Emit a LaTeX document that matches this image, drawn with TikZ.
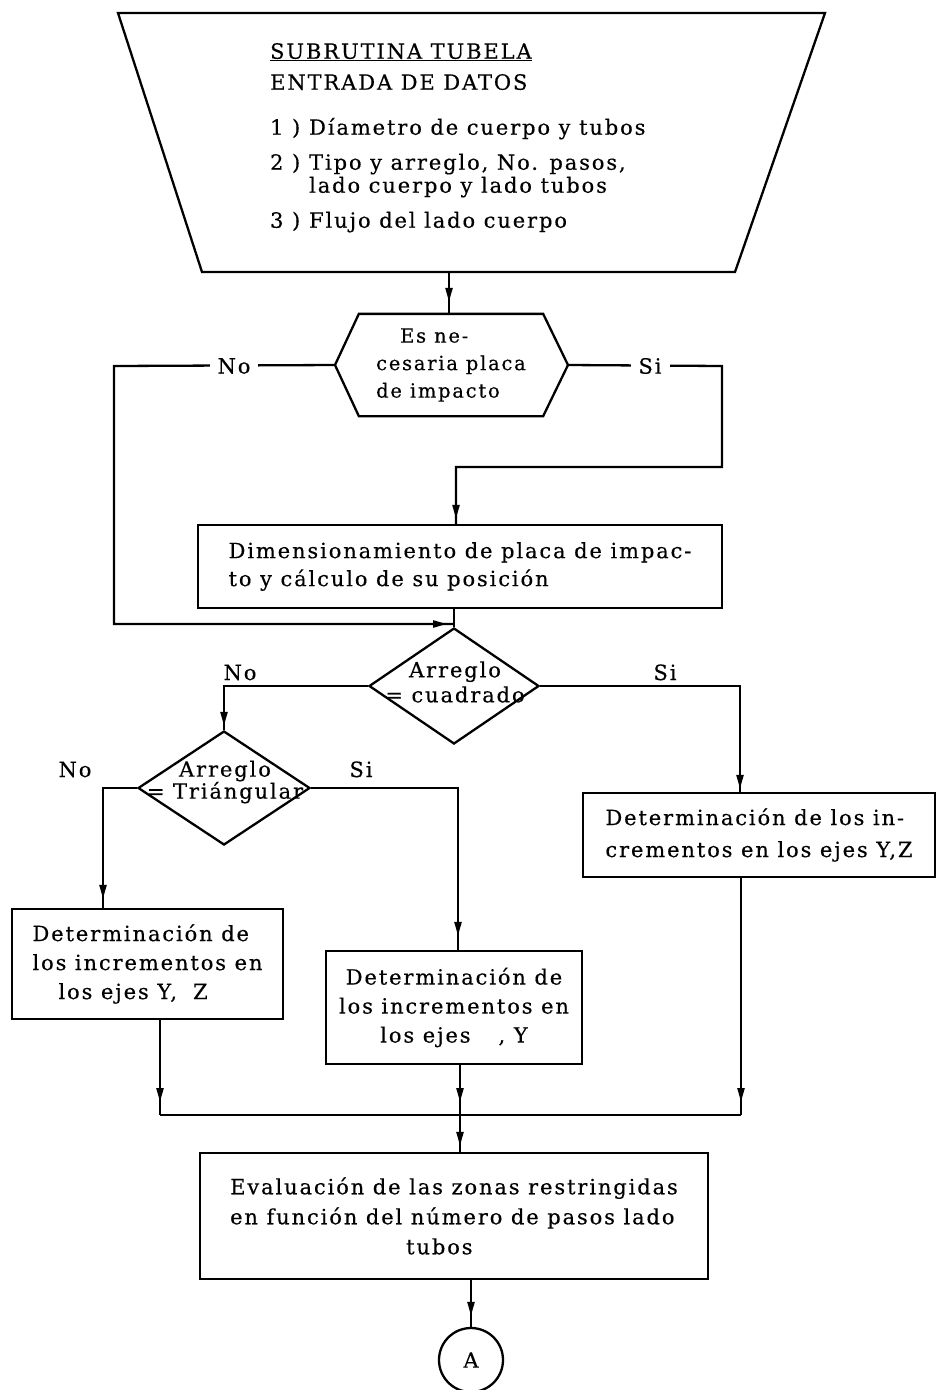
\documentclass[tikz,border=0pt]{standalone}
\usepackage{fontspec}
\setmainfont{DejaVu Serif}[LetterSpace=9, FakeBold=0.4]
\usetikzlibrary{shapes.geometric,arrows.meta,decorations.markings}

\begin{document}
\begin{tikzpicture}[x=1pt,y=-1pt,
  line width=2.3pt,
  bodytext/.style={font=\fontsize{21}{#1}\selectfont},
  procbox/.style={draw, rectangle, line width=2.3pt, inner sep=0pt},
  decision/.style={draw, diamond, line width=2.3pt, inner sep=0pt},
  branchlabel/.style={font=\fontsize{21}{24}\selectfont, inner sep=0pt},
  gaplabel/.style={font=\fontsize{21}{24}\selectfont, fill=white, inner xsep=8pt, inner ysep=3pt},
  tipat/.style={postaction={decorate},
    decoration={markings, mark=at position -#1 with {\arrow{Triangle[length=14pt,width=7pt]}}}},
]
\useasboundingbox (0,0) rectangle (937,1390);

% ---- input block (trapezium) ----
\coordinate (trapTL) at (118,13);
\coordinate (trapTR) at (825,13);
\coordinate (trapBR) at (735,272);
\coordinate (trapBL) at (202,272);
\coordinate (trapout) at (449,272);
\draw (trapTL) -- (trapTR) -- (trapBR) -- (trapBL) -- cycle;
\node[bodytext=23, align=left, anchor=north west, inner sep=0pt] (entrada) at (269,42)
  {\underline{SUBRUTINA TUBELA}\\[8pt]
   ENTRADA DE DATOS\\[22pt]
   \makebox[39pt][l]{1 )}Díametro de cuerpo y tubos\\[12pt]
   \makebox[39pt][l]{2 )}Tipo y arreglo, No. pasos,\\
   \hspace*{39pt}lado cuerpo y lado tubos\\[12pt]
   \makebox[39pt][l]{3 )}Flujo del lado cuerpo};

% ---- decision: impact plate (hexagon) ----
\node[font=\fontsize{19.5}{27.5}\selectfont, align=left, inner sep=0pt,
      minimum width=182pt, minimum height=100pt] (hex) at (451,365)
  {\hspace*{24pt}Es ne-\\cesaria placa\\de impacto};
\coordinate (hexW) at ([xshift=-116pt]hex.center);
\coordinate (hexE) at ([xshift=117pt]hex.center);
\draw (hex.north west) -- (hex.north east) -- (hexE) -- (hex.south east)
      -- (hex.south west) -- (hexW) -- cycle;

% ---- process boxes ----
\node[procbox, bodytext=28, align=left, minimum width=524pt, minimum height=83pt]
  (dim) at (460,566.5)
  {Dimensionamiento de placa de impac-\\to y cálculo de su posición};

\node[decision, minimum width=170pt, minimum height=116pt] (cuad) at (454,686) {};
\node[bodytext=25, align=center, inner sep=0pt] (cuadtxt) at (455,682)
  {Arreglo\\= cuadrado};

\node[decision, minimum width=172pt, minimum height=114pt] (tri) at (224,788) {};
\node[bodytext=22, align=center, inner sep=0pt] (tritxt) at (225,782)
  {Arreglo\\= Triángular};

\node[procbox, bodytext=32, align=left, minimum width=352pt, minimum height=84pt]
  (incsq) at (759,835)
  {Determinación de los in-\\crementos en los ejes Y,Z};

\node[procbox, bodytext=29, align=left, minimum width=271pt, minimum height=110pt]
  (inctri) at (147.5,964)
  {Determinación de\\los incrementos en\\\hspace*{26pt}los ejes Y,\hspace{16pt}Z};

\node[procbox, bodytext=29, align=center, minimum width=256pt, minimum height=113pt]
  (incoth) at (454,1007.5)
  {Determinación de\\los incrementos en\\los ejes\hspace{28pt}, Y};

\node[procbox, bodytext=30, align=left, minimum width=508pt, minimum height=126pt]
  (evalz) at (454,1216)
  {Evaluación de las zonas restringidas\\en función del número de pasos lado\\\hspace*{176pt}tubos};

\node[draw, circle, line width=2.3pt, minimum size=64pt, inner sep=0pt,
      font=\fontsize{21}{24}\selectfont] (conA) at (471,1360) {A};

% ---- connector anchor points ----
\coordinate (dimin)  at ([xshift=-4pt]dim.north);
\coordinate (dimout) at ([xshift=-6pt]dim.south);
\coordinate (sqin)   at ([xshift=-19pt]incsq.north);
\coordinate (sqout)  at ([xshift=-18pt]incsq.south);
\coordinate (triin)  at ([xshift=-44.5pt]inctri.north);
\coordinate (triout) at ([xshift=12.5pt]inctri.south);
\coordinate (othin)  at ([xshift=4pt]incoth.north);
\coordinate (othout) at ([xshift=6pt]incoth.south);
\coordinate (merge)  at (460,1115);
\coordinate (nobend) at (114,366);
\coordinate (sibend) at (722,366);
\coordinate (sistep) at (722,467);

% ---- connectors ----
\draw[tipat=12pt] (trapout) -- (trapout |- hex.north);

\draw[tipat=7pt] (hexW) -- (nobend) -- (nobend |- 0,624) -- (cuad.north |- 0,624);
\draw[tipat=5pt] (hexE) -- (sibend) -- (sistep) -- (sistep -| dimin) -- (dimin);
\draw (dimout) -- (cuad.north);

\draw[tipat=4pt] (cuad.west) -- (cuad.west -| tri.north) -- (tri.north);
\draw[tipat=3pt] (cuad.east) -- (cuad.east -| sqin) -- (sqin);

\draw[tipat=9pt]  (tri.west) -- (tri.west -| triin) -- (triin);
\draw[tipat=14pt] (tri.east) -- (tri.east -| othin) -- (othin);

\draw[tipat=13pt] (triout) -- (triout |- merge);
\draw[tipat=13pt] (othout) -- (othout |- merge);
\draw[tipat=13pt] (sqout) -- (sqout |- merge);
\draw (triout |- merge) -- (sqout |- merge);
\draw[tipat=6pt] (merge) -- (merge |- evalz.north);
\draw[tipat=11pt] (evalz.south -| conA) -- (conA.north);

% ---- branch labels ----
\node[gaplabel] (nohex) at (234,366) {No};
\node[gaplabel] (sihex) at (650,366) {Si};
\node[branchlabel, anchor=base] (nosq) at (240,680) {No};
\node[branchlabel, anchor=base] (sisq) at (665,680) {Si};
\node[branchlabel, anchor=base] (notri) at (75,777) {No};
\node[branchlabel, anchor=base] (sitri) at (361,777) {Si};
\end{tikzpicture}
\end{document}
